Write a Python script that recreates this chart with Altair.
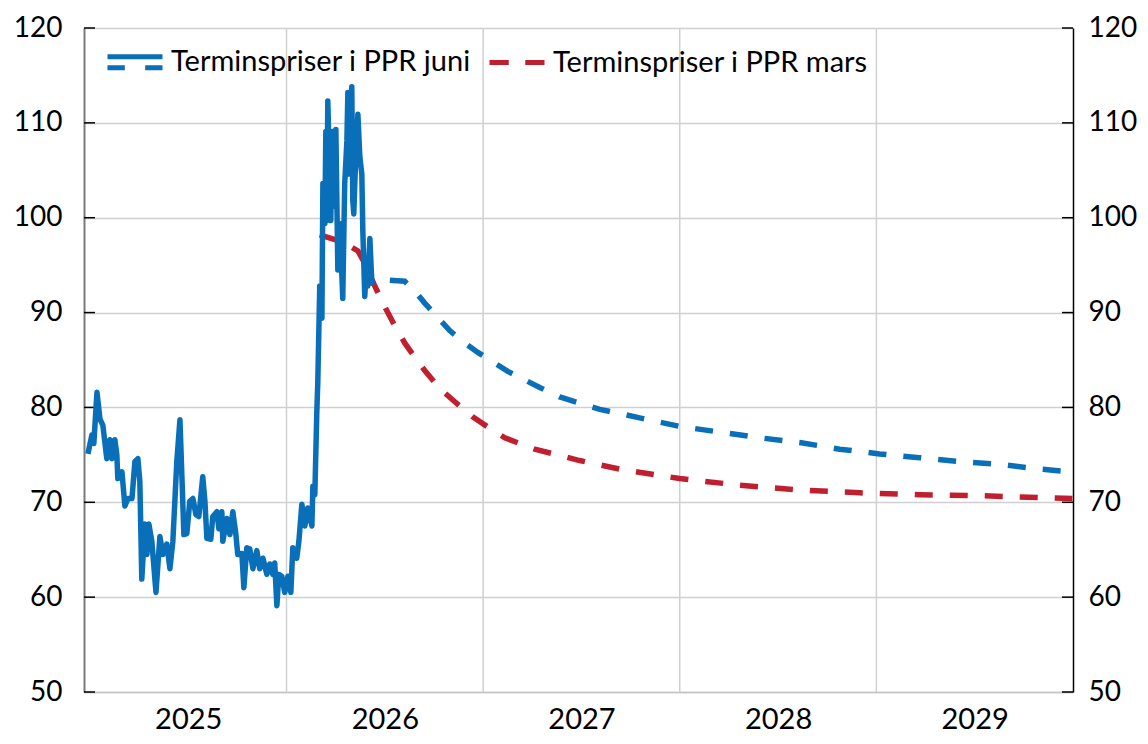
import altair as alt
import pandas as pd

# ---------------- data ----------------
hist_t = [2024.990, 2025.010, 2025.020, 2025.036, 2025.051, 2025.066, 2025.086, 2025.102, 2025.112, 2025.127,
          2025.137, 2025.142, 2025.163, 2025.178, 2025.193, 2025.214, 2025.229, 2025.244, 2025.254, 2025.264,
          2025.280, 2025.290, 2025.300, 2025.315, 2025.336, 2025.356, 2025.371, 2025.391, 2025.407, 2025.422,
          2025.442, 2025.458, 2025.478, 2025.493, 2025.508, 2025.524, 2025.539, 2025.554, 2025.574, 2025.585,
          2025.595, 2025.615, 2025.625, 2025.646, 2025.656, 2025.671, 2025.676, 2025.697, 2025.712, 2025.727,
          2025.742, 2025.752, 2025.773, 2025.783, 2025.798, 2025.813, 2025.829, 2025.849, 2025.864, 2025.880,
          2025.900, 2025.915, 2025.930, 2025.940, 2025.951, 2025.961, 2025.976, 2025.991, 2026.007, 2026.022,
          2026.032, 2026.052, 2026.063, 2026.078, 2026.093, 2026.108, 2026.129, 2026.134, 2026.144, 2026.154,
          2026.159, 2026.169, 2026.180, 2026.185, 2026.195, 2026.200, 2026.205, 2026.210, 2026.225, 2026.235,
          2026.241, 2026.251, 2026.261, 2026.271, 2026.281, 2026.286, 2026.296, 2026.307, 2026.312, 2026.322,
          2026.332, 2026.337, 2026.342, 2026.352, 2026.363, 2026.373, 2026.383, 2026.388, 2026.398, 2026.408,
          2026.413, 2026.424, 2026.434, 2026.439]
hist_v = [75.1, 77.1, 76.2, 81.6, 78.8, 78.1, 74.6, 76.6, 74.6, 76.6,
          75.0, 72.5, 73.2, 69.6, 70.4, 70.4, 74.3, 74.6, 72.2, 61.9,
          67.7, 64.5, 67.7, 65.9, 60.5, 66.4, 64.5, 65.6, 63.0, 65.9,
          74.3, 78.7, 66.6, 66.7, 70.1, 70.4, 68.7, 68.5, 72.7, 70.1,
          66.2, 66.1, 68.5, 69.0, 67.2, 69.0, 65.9, 68.3, 66.6, 69.0,
          66.7, 64.5, 64.6, 61.0, 65.2, 65.1, 63.0, 64.9, 63.0, 64.1,
          62.4, 63.5, 62.4, 63.6, 59.1, 62.4, 62.2, 60.5, 62.2, 60.5,
          65.2, 64.1, 65.9, 69.8, 67.5, 69.4, 67.5, 71.7, 70.8, 79.5,
          82.6, 92.8, 89.4, 103.6, 99.4, 109.1, 99.7, 112.3, 99.7, 109.1,
          101.2, 109.3, 94.5, 99.4, 94.2, 91.5, 103.6, 108.1, 113.2, 104.6,
          113.8, 101.8, 100.4, 106.4, 110.9, 106.4, 104.6, 98.7, 91.7, 95.5,
          92.8, 97.8, 93.1, 93.4]

juni_t = [2026.439, 2026.525, 2026.601, 2026.652, 2026.703, 2026.764, 2026.830, 2026.906, 2026.973, 2027.034,
          2027.125, 2027.288, 2027.390, 2027.593, 2027.796, 2027.999, 2028.203, 2028.406, 2028.610, 2028.813,
          2029.016, 2029.220, 2029.423, 2029.626, 2029.830, 2029.997]
juni_v = [93.4, 93.4, 93.3, 92.3, 91.0, 89.6, 88.1, 86.8, 85.8, 85.0,
          83.8, 82.1, 81.1, 79.8, 78.9, 78.0, 77.4, 76.8, 76.3, 75.6,
          75.1, 74.7, 74.3, 74.0, 73.5, 73.2]

mars_t = [2026.169, 2026.246, 2026.322, 2026.363, 2026.403, 2026.449, 2026.500, 2026.551, 2026.601, 2026.652,
          2026.703, 2026.779, 2026.856, 2026.947, 2027.034, 2027.110, 2027.262, 2027.491, 2027.694, 2027.999,
          2028.305, 2028.610, 2028.915, 2029.220, 2029.525, 2029.830, 2029.997]
mars_v = [98.2, 97.7, 97.0, 96.5, 95.0, 92.8, 90.6, 88.6, 86.8, 85.3,
          83.9, 82.0, 80.6, 79.0, 77.8, 76.8, 75.6, 74.4, 73.5, 72.5,
          71.8, 71.3, 71.0, 70.8, 70.7, 70.5, 70.4]

series = ["Terminspriser i PPR juni", "Terminspriser i PPR mars"]
y_ticks = [50, 60, 70, 80, 90, 100, 110, 120]
year_grid = [2026, 2027, 2028, 2029]
year_label_pos = [2025.5, 2026.5, 2027.5, 2028.5, 2029.5]
x_domain = [2024.97, 2030.0]

BLUE = "#0a6fb9"
RED = "#c01f2f"
GRID = "#d0d0d0"
FONT = "Lato"

# ---------------- frames ----------------
df_hist = pd.DataFrame({"t": hist_t, "v": hist_v})
df_fc = pd.concat([
    pd.DataFrame({"t": juni_t, "v": juni_v, "serie": series[0]}),
    pd.DataFrame({"t": mars_t, "v": mars_v, "serie": series[1]}),
], ignore_index=True)
df_yt = pd.DataFrame({"y": y_ticks})
df_grid = pd.DataFrame({"t": year_grid})

x_axis = alt.Axis(values=year_label_pos, labelExpr="floor(datum.value)", grid=False, ticks=False,
                  domainColor="#c4c4c4", domainWidth=1.5, labelFont=FONT, labelFontSize=29,
                  labelColor="black", labelPadding=13, title=None)
x_scale = alt.Scale(domain=x_domain, nice=False, zero=False)
X = alt.X("t:Q", scale=x_scale, axis=x_axis)

y_scale = alt.Scale(domain=[50, 120], nice=False, zero=False)
y_left = alt.Axis(values=y_ticks, grid=True, gridColor=GRID, gridWidth=1.5, ticks=False,
                  domainColor="#7a7a7a", domainWidth=2, labelFont=FONT, labelFontSize=28,
                  labelColor="black", labelPadding=22, title=None)
y_right = alt.Axis(orient="right", values=y_ticks, grid=False, ticks=False, domainColor="black",
                   domainWidth=1.5, labelFont=FONT, labelFontSize=28, labelColor="black",
                   labelPadding=15, title=None)

grid_rules = alt.Chart(df_grid).mark_rule(color=GRID, strokeWidth=1.5).encode(x=X)

left_ticks = alt.Chart(df_yt).mark_rule(color="black", strokeWidth=1.5).encode(
    x=alt.value(0), x2=alt.value(11), y=alt.Y("y:Q", scale=y_scale, axis=y_left))

mars_line = alt.Chart(df_fc).transform_filter(alt.datum.serie == series[1]).mark_line(
    color=RED, strokeWidth=5.5, strokeDash=[18, 17]).encode(
    x=X, y=alt.Y("v:Q", scale=y_scale, axis=y_left), order="t:Q")

juni_line = alt.Chart(df_fc).transform_filter(alt.datum.serie == series[0]).mark_line(
    color=BLUE, strokeWidth=5.5, strokeDash=[18, 17], strokeDashOffset=18).encode(
    x=X, y=alt.Y("v:Q", scale=y_scale, axis=y_left), order="t:Q")

hist_line = alt.Chart(df_hist).mark_line(color=BLUE, strokeWidth=5.5, strokeJoin="round").encode(
    x=X, y=alt.Y("v:Q", scale=y_scale, axis=y_left), order="t:Q")

path_juni = "M-1,-0.2L1,-0.2M-1,0.2L-0.37,0.2M0.37,0.2L1,0.2"
path_mars = "M-1,0L-0.3,0M0.3,0L1,0"

legend = alt.Legend(orient="none", legendX=21, legendY=4, direction="horizontal", title=None,
                    labelFont=FONT, labelFontSize=29, labelColor="black", labelOffset=6,
                    labelLimit=0, columnPadding=8, padding=0, symbolSize=3025, symbolStrokeWidth=5,
                    symbolOpacity=1, symbolFillColor="transparent")

legend_pts = alt.Chart(df_fc).mark_point(filled=False, size=3025, strokeWidth=5).encode(
    x=X, y=alt.Y("v:Q", scale=y_scale, axis=y_left),
    color=alt.Color("serie:N", scale=alt.Scale(domain=series, range=[BLUE, RED]), legend=legend),
    shape=alt.Shape("serie:N", scale=alt.Scale(domain=series, range=[path_juni, path_mars]), legend=legend),
    opacity=alt.value(0))

main = alt.layer(grid_rules, left_ticks, mars_line, juni_line, hist_line, legend_pts)

right_ticks = alt.Chart(df_yt).mark_rule(color="black", strokeWidth=1.5).encode(
    x=alt.value(978), x2=alt.value(989), y=alt.Y("y:Q", scale=y_scale, axis=y_right))

chart = alt.layer(main, right_ticks).resolve_scale(y="independent").properties(
    width=989, height=664,
    autosize=alt.AutoSizeParams(type="none"),
    padding={"left": 76, "top": 20, "right": 67, "bottom": 44},
).configure_view(stroke=None).configure(font=FONT)

chart.save("out.html", embed_options={"renderer": "svg", "actions": False})
